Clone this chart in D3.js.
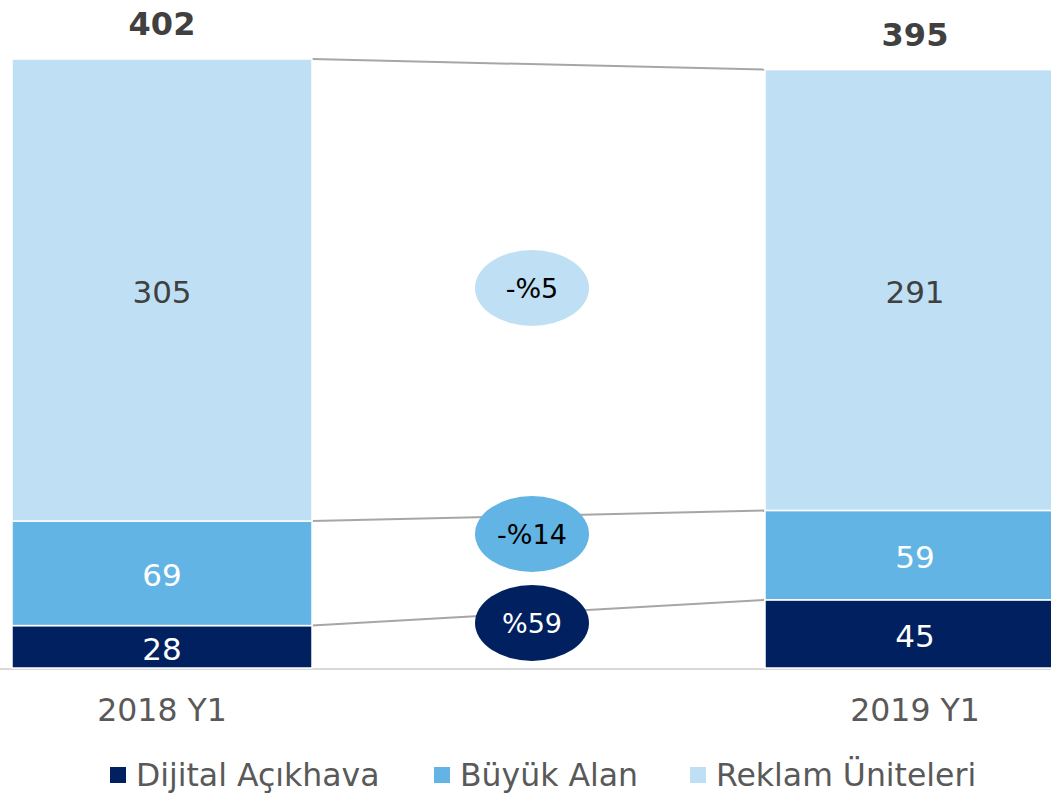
<!DOCTYPE html>
<html>
<head>
<meta charset="utf-8">
<script src="https://cdn.jsdelivr.net/npm/d3@7"></script>
<style>
  body { margin: 0; background: #fff; }
  svg { display: block; font-family: "DejaVu Sans", Verdana, sans-serif; }
</style>
</head>
<body>
<svg id="chart" width="1051" height="795"></svg>
<script>
// periods and series
const periods = ["2018 Y1", "2019 Y1"];
const seriesNames = ["Dijital Açıkhava", "Büyük Alan", "Reklam Üniteleri"];
const dijital = [28, 45];
const buyuk = [69, 59];
const reklam = [305, 291];
const totals = [402, 395];
const changes = ["%59", "-%14", "-%5"];   // per series, bottom to top

const COLORS = ["#002060", "#62b4e4", "#bfe0f4"];
const CHANGE_TEXT = ["#ffffff", "#000000", "#000000"];

const svg = d3.select("#chart");
const W = 1051;

const x = d3.scaleBand().domain(periods).range([12, 1065]).paddingInner(0.6016).paddingOuter(0);
const y = d3.scaleLinear().domain([0, 402]).range([668, 59]);

const rows = periods.map((p, i) => ({ period: p, dijital: dijital[i], buyuk: buyuk[i], reklam: reklam[i] }));
const stack = d3.stack().keys(["dijital", "buyuk", "reklam"])(rows);

// baseline
svg.append("line")
  .attr("x1", 0).attr("x2", W)
  .attr("y1", y(0) + 1).attr("y2", y(0) + 1)
  .attr("stroke", "#d9d9d9").attr("stroke-width", 2);

// connector lines between bar tops of each segment
stack.forEach(layer => {
  svg.append("line")
    .attr("x1", x(periods[0]) + x.bandwidth())
    .attr("y1", y(layer[0][1]))
    .attr("x2", x(periods[1]))
    .attr("y2", y(layer[1][1]))
    .attr("stroke", "#a6a6a6").attr("stroke-width", 2);
});

// bars
stack.forEach((layer, li) => {
  const g = svg.append("g");
  g.selectAll("rect").data(layer).join("rect")
    .attr("x", d => x(d.data.period))
    .attr("y", d => y(d[1]))
    .attr("width", x.bandwidth())
    .attr("height", d => y(d[0]) - y(d[1]))
    .attr("fill", COLORS[li])
    .attr("stroke", "#fff").attr("stroke-width", 1.5);
  g.selectAll("text").data(layer).join("text")
    .attr("x", d => x(d.data.period) + x.bandwidth() / 2)
    .attr("y", d => (y(d[0]) + y(d[1])) / 2)
    .attr("dy", "0.42em")
    .attr("text-anchor", "middle")
    .attr("font-size", 31)
    .attr("fill", li === 2 ? "#404040" : "#ffffff")
    .text(d => d[1] - d[0]);
});

// totals
svg.selectAll(".total").data(periods).join("text")
  .attr("class", "total")
  .attr("x", p => x(p) + x.bandwidth() / 2)
  .attr("y", (p, i) => y(totals[i]) - 24)
  .attr("text-anchor", "middle")
  .attr("font-size", 32).attr("font-weight", "bold")
  .attr("fill", "#404040")
  .text((p, i) => totals[i]);

// change ellipses
const midX = 532;
const ellY = [623, 534, 288];
changes.forEach((c, i) => {
  svg.append("ellipse")
    .attr("cx", midX).attr("cy", ellY[i])
    .attr("rx", 57).attr("ry", 38)
    .attr("fill", COLORS[i]);
  svg.append("text")
    .attr("x", midX).attr("y", ellY[i])
    .attr("dy", "0.38em")
    .attr("text-anchor", "middle")
    .attr("font-size", 27)
    .attr("fill", CHANGE_TEXT[i])
    .text(c);
});

// category axis
const axis = svg.append("g").attr("transform", `translate(0,${y(0)})`)
  .call(d3.axisBottom(x).tickSize(0).tickPadding(31));
axis.select(".domain").remove();
axis.selectAll("text")
  .attr("font-size", 31.5).attr("fill", "#595959")
  .attr("font-family", "DejaVu Sans, Verdana, sans-serif");

// legend
const legX = [110, 434, 690];
const leg = svg.append("g");
seriesNames.forEach((n, i) => {
  leg.append("rect")
    .attr("x", legX[i]).attr("y", 767)
    .attr("width", 16).attr("height", 16)
    .attr("fill", COLORS[i]);
  leg.append("text")
    .attr("x", legX[i] + 26).attr("y", 775)
    .attr("dy", "0.36em")
    .attr("font-size", 31.5).attr("fill", "#595959")
    .text(n);
});
</script>
</body>
</html>
